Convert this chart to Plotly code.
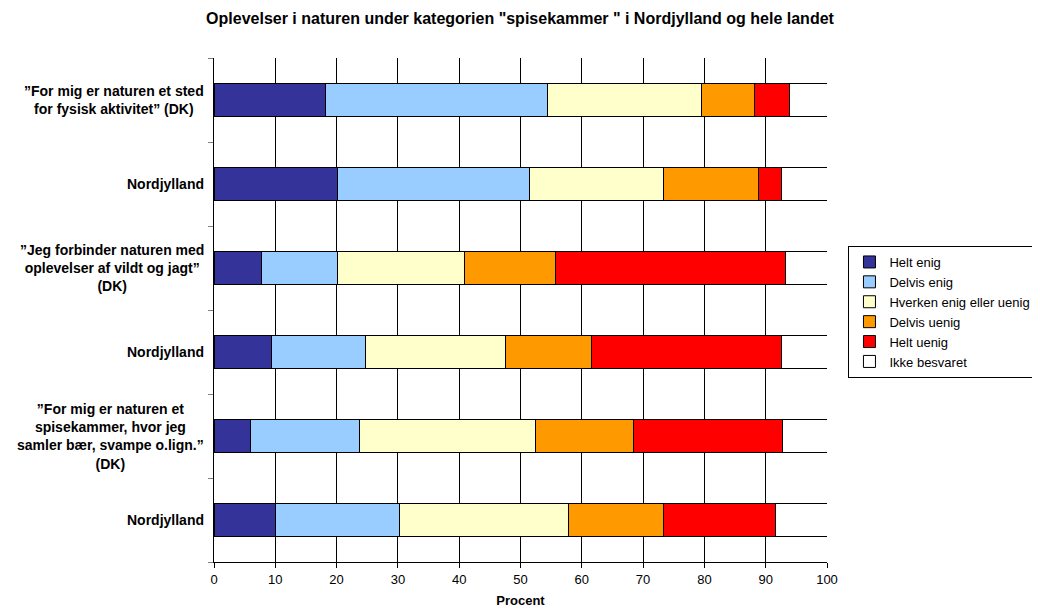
import plotly.graph_objects as go

categories = [
    "”For mig er naturen et sted<br>for fysisk aktivitet” (DK)",
    "Nordjylland",
    "”Jeg forbinder naturen med<br>oplevelser af vildt og jagt”<br>(DK)",
    "Nordjylland",
    "”For mig er naturen et<br>spisekammer, hvor jeg<br>samler bær, svampe o.lign.”<br>(DK)",
    "Nordjylland",
]

series_names = ["Helt enig", "Delvis enig", "Hverken enig eller uenig",
                "Delvis uenig", "Helt uenig", "Ikke besvaret"]

helt_enig = [18.2, 20.2, 7.7, 9.3, 6.0, 10.1]
delvis_enig = [36.2, 31.2, 12.5, 15.4, 17.8, 20.2]
hverken = [25.2, 22.0, 20.6, 22.9, 28.7, 27.5]
delvis_uenig = [8.5, 15.5, 14.9, 13.9, 16.0, 15.6]
helt_uenig = [5.8, 3.7, 37.6, 31.1, 24.3, 18.2]
ikke_besvaret = [6.1, 7.4, 6.7, 7.4, 7.2, 8.4]

x_ticks = [0, 10, 20, 30, 40, 50, 60, 70, 80, 90, 100]

colors = ["#333399", "#99CCFF", "#FFFFCC", "#FF9900", "#FF0000", "#FFFFFF"]
values = [helt_enig, delvis_enig, hverken, delvis_uenig, helt_uenig, ikke_besvaret]

FONT = "Arial, Liberation Sans, sans-serif"
ypos = list(range(len(categories)))

# the page body has an 8px margin; size the figure so it fits the window
W, H = 1032, 606

fig = go.Figure()
for name, vals, col in zip(series_names, values, colors):
    fig.add_trace(go.Bar(
        y=ypos, x=vals, name=name, orientation="h", legendgroup=name,
        marker=dict(color=col, line=dict(color="#000000", width=1)),
    ))

for i, cat in enumerate(categories):
    fig.add_annotation(
        x=0, xref="paper", xshift=-8, y=i, yref="y",
        text="<b>" + cat + "</b>", showarrow=False,
        xanchor="right", yanchor="middle", align="center",
        font=dict(family=FONT, size=14, color="#000000"),
    )

fig.update_layout(
    width=W, height=H,
    barmode="stack", bargap=0.6,
    plot_bgcolor="#FFFFFF", paper_bgcolor="#FFFFFF",
    margin=dict(l=206, r=213, t=50, b=52, autoexpand=False),
    font=dict(family=FONT, size=13, color="#000000"),
    title=dict(
        text="<b>Oplevelser i naturen under kategorien \"spisekammer \" i Nordjylland og hele landet</b>",
        x=512 / W, xref="container", xanchor="center",
        y=1 - 10 / H, yref="container", yanchor="middle",
        font=dict(family=FONT, size=16, color="#000000"),
    ),
    legend=dict(
        x=1.035, xanchor="left", y=0.627, yanchor="top",
        traceorder="normal",
        bordercolor="#000000", borderwidth=1, bgcolor="#FFFFFF",
        font=dict(family=FONT, size=13, color="#000000"),
        tracegroupgap=1, itemwidth=30,
    ),
    xaxis=dict(
        range=[0, 100], tickvals=x_ticks, ticks="outside", ticklen=5,
        tickcolor="#000000", showline=True, linecolor="#000000", linewidth=1,
        showgrid=True, gridcolor="#000000", gridwidth=1, zeroline=False,
        title=dict(text="<b>Procent</b>", standoff=10,
                   font=dict(family=FONT, size=13, color="#000000")),
        tickfont=dict(family=FONT, size=13, color="#000000"),
    ),
    yaxis=dict(
        range=[len(categories) - 0.5, -0.5],
        tickvals=[i - 0.5 for i in range(len(categories) + 1)],
        showticklabels=False, ticks="outside", ticklen=5, tickcolor="#808080",
        showline=True, linecolor="#000000", linewidth=1,
        showgrid=False, zeroline=False,
    ),
)

fig.write_html("out.html")
